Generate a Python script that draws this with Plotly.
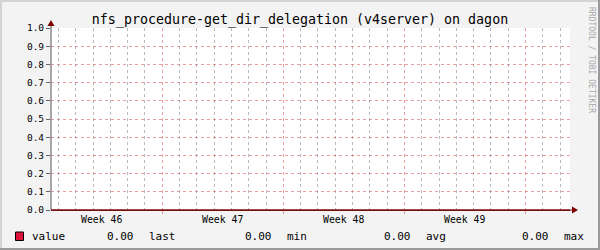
import plotly.graph_objects as go

# ---- data ----
days = [-6.43, 0, 7, 14, 21, 23.57]          # time axis in days (week 47 starts at 0)
values = [0.0, 0.0, 0.0, 0.0, 0.0, 0.0]
week_centers = [-3.5, 3.5, 10.5, 17.5]
week_labels = ["Week 46", "Week 47", "Week 48", "Week 49"]
series_name = "value"
stat_names = ["last", "min", "avg", "max"]
stat_values = [0.00, 0.00, 0.00, 0.00]
title = "nfs_procedure-get_dir_delegation (v4server) on dagon"

W, H = 600, 250
L, R, T, B = 51, 30, 28, 40
PW, PH = W - L - R, H - T - B


def px(x):
    return (x - L) / PW


def py(y):
    return (H - B - y) / PH


MONO = "DejaVu Sans Mono"
MGRID = "rgba(222,80,80,0.55)"
GRID = "rgba(140,140,140,0.6)"
ARROW = "#7F0000"

fig = go.Figure()
fig.add_trace(go.Scatter(x=days, y=values, mode="lines",
                         line=dict(color="#7A1010", width=1.5),
                         hoverinfo="skip", showlegend=False))

fig.update_layout(
    width=W, height=H,
    margin=dict(l=L, r=R, t=T, b=B, pad=0),
    paper_bgcolor="#F3F3F3",
    plot_bgcolor="#FFFFFF",
    showlegend=False,
    title=dict(text=title, x=0.5, xref="container", xanchor="center",
               y=1 - 19 / H, yref="container", yanchor="middle",
               font=dict(family=MONO, size=13.3, color="#000000")),
    xaxis=dict(range=[days[0], days[-1]], tickmode="linear", tick0=0, dtick=7,
               showticklabels=False, ticks="outside", ticklen=3, tickcolor=MGRID,
               showgrid=True, gridcolor=MGRID, griddash="dot", gridwidth=1,
               minor=dict(tickmode="linear", tick0=0, dtick=1, showgrid=True,
                          gridcolor=GRID, griddash="dot", gridwidth=1, ticks=""),
               showline=True, linecolor="#7A1010", linewidth=1,
               zeroline=False, fixedrange=True),
    yaxis=dict(range=[0, 1], tickmode="linear", tick0=0, dtick=0.1, tickformat=".1f",
               ticks="outside", ticklen=4, tickcolor="#666666",
               tickfont=dict(family=MONO, size=9.5, color="#000000"),
               showgrid=True, gridcolor=MGRID, griddash="dot", gridwidth=1,
               showline=False, zeroline=False, fixedrange=True),
)

shapes = []
# y axis line with arrow
shapes.append(dict(type="line", xref="paper", yref="paper", x0=0, x1=0,
                   y0=0, y1=py(23), line=dict(color="#555555", width=1)))
shapes.append(dict(type="path", xref="paper", yref="paper",
                   path=f"M {px(47.5)} {py(26)} L {px(54.5)} {py(26)} L {px(51)} {py(20)} Z",
                   fillcolor=ARROW, line=dict(color=ARROW, width=0)))
# x axis extension with arrow
shapes.append(dict(type="line", xref="paper", yref="paper", x0=1, x1=px(574),
                   y0=0, y1=0, line=dict(color="#7A1010", width=1)))
shapes.append(dict(type="path", xref="paper", yref="paper",
                   path=f"M {px(572)} {py(206.5)} L {px(572)} {py(213.5)} L {px(578)} {py(210)} Z",
                   fillcolor=ARROW, line=dict(color=ARROW, width=0)))
# frame shading
shapes.append(dict(type="rect", xref="paper", yref="paper", x0=px(0), x1=px(600),
                   y0=py(0), y1=py(2), fillcolor="#D4D4D4", line=dict(width=0), layer="above"))
shapes.append(dict(type="rect", xref="paper", yref="paper", x0=px(0), x1=px(2),
                   y0=py(0), y1=py(250), fillcolor="#D4D4D4", line=dict(width=0), layer="above"))
shapes.append(dict(type="rect", xref="paper", yref="paper", x0=px(598), x1=px(600),
                   y0=py(0), y1=py(250), fillcolor="#9A9A9A", line=dict(width=0), layer="above"))
shapes.append(dict(type="rect", xref="paper", yref="paper", x0=px(0), x1=px(600),
                   y0=py(248), y1=py(250), fillcolor="#9A9A9A", line=dict(width=0), layer="above"))
# legend box
shapes.append(dict(type="rect", xref="paper", yref="paper", x0=px(15.5), x1=px(23.5),
                   y0=py(232), y1=py(240.5), fillcolor="#DC143C",
                   line=dict(color="#000000", width=1)))
fig.update_layout(shapes=shapes)

ann = []
for c, lab in zip(week_centers, week_labels):
    ann.append(dict(x=c, y=py(219.5), xref="x", yref="paper", text=lab, showarrow=False,
                    xanchor="center", yanchor="middle",
                    font=dict(family=MONO, size=9.8, color="#000000")))

LEG_Y = py(236)
leg_font = dict(family=MONO, size=11, color="#000000")
ann.append(dict(x=px(29.5), y=LEG_Y, xref="paper", yref="paper", text=series_name,
                showarrow=False, xanchor="left", yanchor="middle", font=leg_font))
val_x = [105, 243.3, 381.7, 520]
name_x = [147.3, 285, 424, 562.3]
for vx, nx, nm, v in zip(val_x, name_x, stat_names, stat_values):
    ann.append(dict(x=px(vx), y=LEG_Y, xref="paper", yref="paper", text=f"{v:.2f}",
                    showarrow=False, xanchor="left", yanchor="middle", font=leg_font))
    ann.append(dict(x=px(nx), y=LEG_Y, xref="paper", yref="paper", text=nm,
                    showarrow=False, xanchor="left", yanchor="middle", font=leg_font))
# watermark
ann.append(dict(x=px(592), y=py(60), xref="paper", yref="paper",
                text="RRDTOOL / TOBI OETIKER", showarrow=False, textangle=90,
                xanchor="center", yanchor="middle",
                font=dict(family=MONO, size=8, color="#AAAAAA")))
fig.update_layout(annotations=ann)

fig.write_html("out.html")
